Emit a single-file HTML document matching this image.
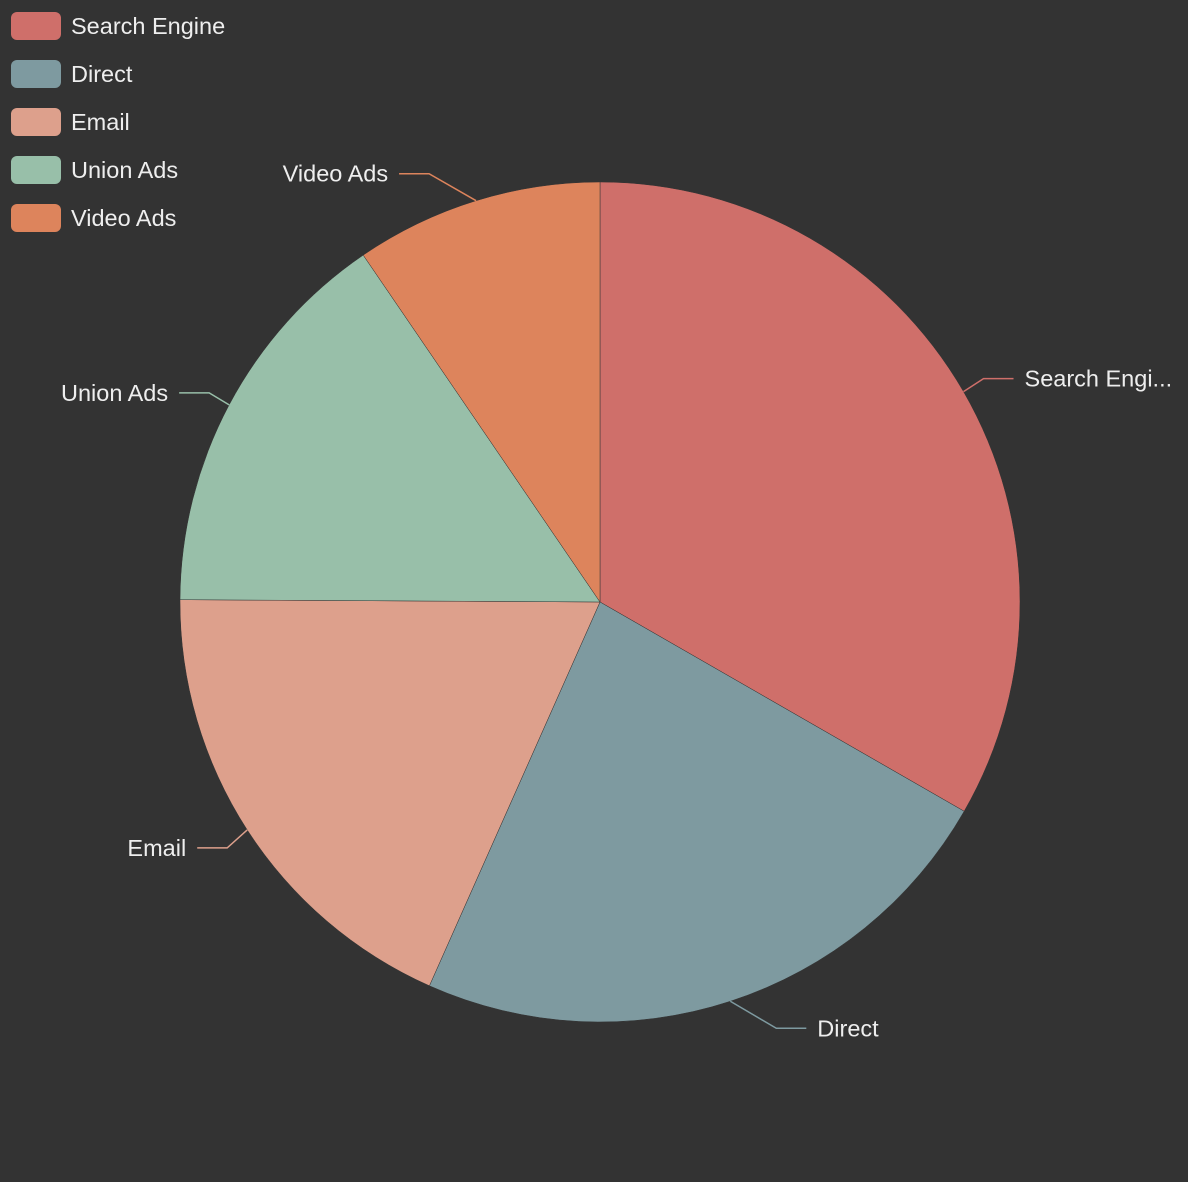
<!DOCTYPE html>
<html><head><meta charset="utf-8"><style>
html,body{margin:0;padding:0;background:#333;}
svg{display:block;font-family:"Liberation Sans",sans-serif;}
</style></head><body>
<svg id="c" width="1188" height="1182"></svg>
<script>
const categories=["Search Engine","Direct","Email","Union Ads","Video Ads"];
const values=[1048,735,580,484,300];
const labels=["Search Engi...","Direct","Email","Union Ads","Video Ads"];
const colors=["#cf6f6a","#7e9aa0","#dda08c","#98bfa9","#dd845c"];
const NS="http://www.w3.org/2000/svg";
const svg=document.getElementById('c');
function mk(t,a,p){const e=document.createElementNS(NS,t);for(const k in a)e.setAttribute(k,a[k]);(p||svg).appendChild(e);return e;}
mk('rect',{x:0,y:0,width:1188,height:1182,fill:'#333'});
const cx=600,cy=602,R=420;
// label-line elbow offsets (layout, relative to slice edge midpoint)
const elbowDx=[20,46,-20,-20,-47], elbowDy=[-13,27,18,-12,-27];
const total=values.reduce((a,b)=>a+b,0);
function pt(ang,r){return [cx+r*Math.sin(ang),cy-r*Math.cos(ang)];}
let acc=0;
values.forEach((v,i)=>{
  const a0=acc/total*2*Math.PI, a1=(acc+v)/total*2*Math.PI; acc+=v;
  const p0=pt(a0,R),p1=pt(a1,R);
  const large=(a1-a0)>Math.PI?1:0;
  const s=mk('path',{d:`M${cx},${cy}L${p0[0]},${p0[1]}A${R},${R} 0 ${large} 1 ${p1[0]},${p1[1]}Z`,fill:colors[i],stroke:'#333','stroke-width':0.5});
  
  
  const m=(a0+a1)/2;
  const q0=pt(m,R);
  const dir=Math.sin(m)>=0?1:-1;
  const q1=[q0[0]+elbowDx[i],q0[1]+elbowDy[i]];
  const q2=[q1[0]+dir*30,q1[1]];
  const l=mk('polyline',{points:`${q0[0]},${q0[1]} ${q1[0]},${q1[1]} ${q2[0]},${q2[1]}`,fill:'none',stroke:colors[i],'stroke-width':1.5});
  
  
  const t=mk('text',{x:q2[0]+dir*11,y:q2[1]+8,fill:'#eee','font-size':23.5,'text-anchor':dir>0?'start':'end'});
  t.textContent=labels[i];
  
  
});
categories.forEach((c,i)=>{
  const g=mk('g',{});
  
  
  mk('rect',{x:11,y:12+i*48,width:50,height:28,rx:6,fill:colors[i]},g);
  const t=mk('text',{x:71,y:34+i*48,fill:'#eee','font-size':23.5},g);
  t.textContent=c;
});
</script>
</body></html>
